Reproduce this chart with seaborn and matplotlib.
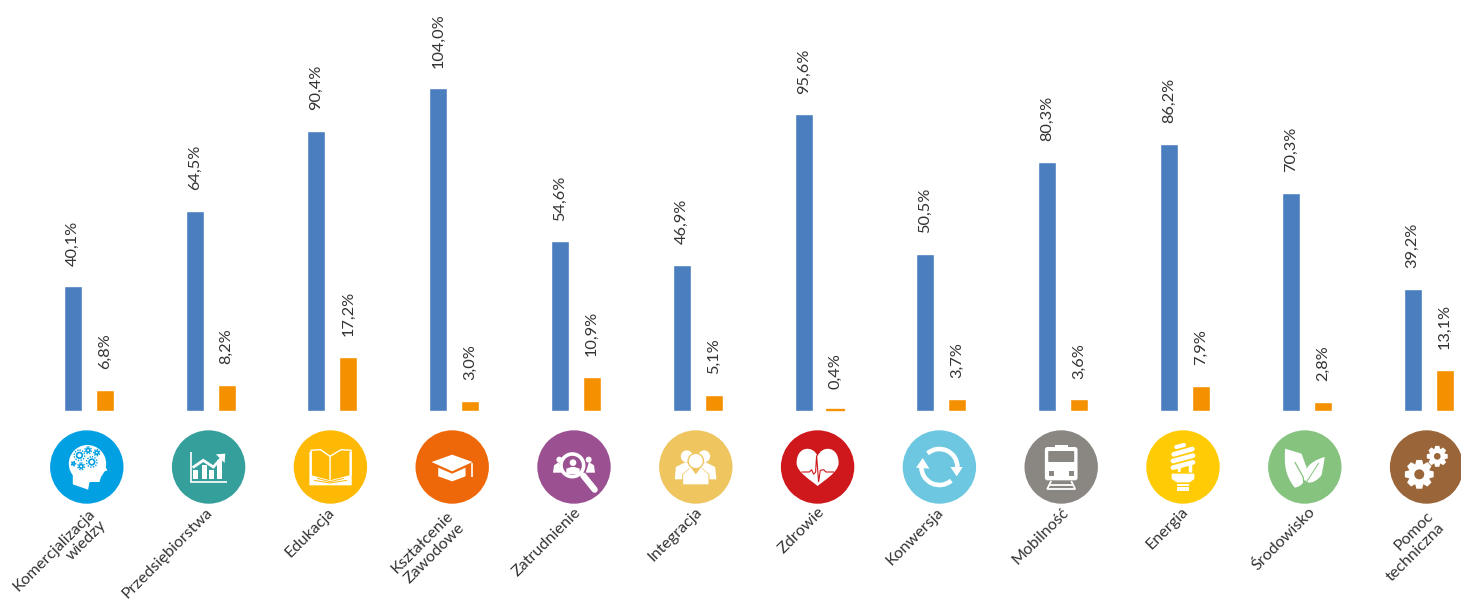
import numpy as np
import pandas as pd
import matplotlib
matplotlib.use("Agg")
import matplotlib.pyplot as plt
import seaborn as sns
from matplotlib.patches import Circle, Polygon, Rectangle, Arc, PathPatch, FancyBboxPatch
from matplotlib.path import Path
from matplotlib.transforms import Affine2D

categories = ["Komercjalizacja\nwiedzy", "Przedsiębiorstwa", "Edukacja", "Kształcenie\nZawodowe",
              "Zatrudnienie", "Integracja", "Zdrowie", "Konwersja",
              "Mobilność", "Energia", "Środowisko", "Pomoc\ntechniczna"]
blue_values = [40.1, 64.5, 90.4, 104.0, 54.6, 46.9, 95.6, 50.5, 80.3, 86.2, 70.3, 39.2]
orange_values = [6.8, 8.2, 17.2, 3.0, 10.9, 5.1, 0.4, 3.7, 3.6, 7.9, 2.8, 13.1]
icon_colors = ["#00A0E3", "#359F9C", "#FDB903", "#EE6708", "#9B5191", "#EEC55F",
               "#CE181B", "#6DC7E1", "#8A8682", "#FFCB05", "#85C37F", "#9A6639"]

W, H = 1461, 602
STEP = 121.8       # px between groups
X0 = 88.8          # px centre of first group
BASE = 410.6       # px of the bars baseline
PX_PER_UNIT = 3.098
ICON_X0 = 86.8
ICON_Y = 467.0
ICON_R = 36.7
LINE_GAP = 11.3    # px shift in x and y of a second label line
# small per label nudges in px, the original labels were placed by hand
LABEL_DX = [4, 0, 0, -3.5, 3, 2, 3, 0, 3, 1, 6, 3]
LABEL_DY = [2, 0, 0, 4, 0, 0, 0, 0, 0, 0, 0, 4]

sns.set_theme(style="white")
plt.rcParams["font.family"] = ["Lato", "DejaVu Sans"]

df = pd.DataFrame({
    "kategoria": categories * 2,
    "seria": ["a"] * 12 + ["b"] * 12,
    "wartosc": blue_values + orange_values,
})

fig = plt.figure(figsize=(W / 100, H / 100), dpi=100)
ax = fig.add_axes([0, 0, 1, 1])
sns.barplot(data=df, x="kategoria", y="wartosc", hue="seria", palette=["#4A7EBF", "#F59100"],
            width=0.525, gap=0.44, saturation=1, legend=False, ax=ax)
ax.set_xlim(-X0 / STEP, (W - X0) / STEP)
ax.set_ylim(-(H - BASE) / PX_PER_UNIT, BASE / PX_PER_UNIT)
ax.axis("off")

all_values = [blue_values, orange_values]
for cont, vals in zip(ax.containers, all_values):
    labels = [f"{v:.1f}".replace(".", ",") + "%" for v in vals]
    ax.bar_label(cont, labels=labels, rotation=90, padding=15, fontsize=11.8, color="#333333")
    for bar, v in zip(cont, vals):
        if v < 1:
            # else the tiny bar rounds away
            bar.set_snap(False)
            bar.set_edgecolor(bar.get_facecolor())
            bar.set_linewidth(0.8)

# icon layer, in image pixels
ov = fig.add_axes([0, 0, 1, 1])
ov.set_xlim(0, W)
ov.set_ylim(H, 0)
ov.axis("off")
ov.patch.set_alpha(0)


def poly(t, pts, color="white", **kw):
    ov.add_patch(Polygon(pts, closed=True, fc=color, ec="none", transform=t, **kw))


def line(t, pts, lw=1.5, color="white", cap="butt"):
    xs, ys = zip(*pts)
    ov.plot(xs, ys, color=color, lw=lw, transform=t, solid_capstyle=cap, solid_joinstyle="miter")


def disc(t, x, y, r, color="white", **kw):
    ov.add_patch(Circle((x, y), r, fc=color, ec="none", transform=t, **kw))


def ring(t, x, y, r, lw, color="white", ls="-"):
    ov.add_patch(Circle((x, y), r, fc="none", ec=color, lw=lw, ls=ls, transform=t))


def gear(t, x, y, r_out, r_in, r_hole, bg, teeth=8):
    pts = []
    for k in range(teeth):
        a = 2 * np.pi * k / teeth
        w = np.pi / teeth
        for da, r in [(-w, r_in), (-w * 0.5, r_out), (w * 0.5, r_out), (w, r_in)]:
            pts.append((x + r * np.cos(a + da), y + r * np.sin(a + da)))
    poly(t, pts)
    disc(t, x, y, r_hole, color=bg)


def icon_head(t, bg):
    disc(t, 2, -10, 56)
    poly(t, [(-42, 20), (-42, 52), (4, 68), (8, 45), (38, 45), (44, 25), (48, 15), (62, 10),
             (50, -10), (45, -30), (0, -30)])
    for x, y, r in [(-22, -35, 17), (4, -50, 11), (30, -43, 10), (15, -15, 17), (-17, -2, 11), (-40, -10, 7)]:
        ring(t, x, y, r * 0.92, 1.0, bg, ls=(0, (1, 1)))
        ring(t, x, y, r * 0.5, 1.2, bg)


def icon_chart(t, bg):
    line(t, [(-54, -45), (-54, 46), (54, 46)], lw=1.2)
    for x, top in [(-46, 8), (-21, -5), (2, 10), (24, -20)]:
        ov.add_patch(Rectangle((x, top), 15, 37 - top, fc="white", ec="none", transform=t))
    line(t, [(-48, 2), (-16, -20), (14, 0), (40, -28)], lw=2)
    poly(t, [(22, -38), (50, -40), (48, -12)])


def icon_book(t, bg):
    poly(t, [(-63, -45), (-56, -45), (-56, 25), (-1, 40), (57, 25), (57, -45), (64, -45), (64, 55), (-63, 55)])
    line(t, [(-58, 25), (-58, -50), (-30, -52), (-1, -32), (-1, 38)], lw=1)
    line(t, [(62, 25), (62, -50), (32, -52), (-1, -32)], lw=1)
    line(t, [(-50, 40), (-1, 48), (50, 40)], lw=0.7, color=bg)
    line(t, [(-40, 34), (-1, 44), (40, 34)], lw=0.7, color=bg)


def icon_cap(t, bg):
    poly(t, [(-62, -15), (0, -37), (61, -15), (0, 13)])
    poly(t, [(-42, 2), (0, 20), (40, 2), (40, 28), (0, 43), (-42, 28)])
    line(t, [(58, -12), (58, 30)], lw=1.2)


def icon_search(t, bg):
    for sx in (-1, 1):
        disc(t, sx * 44, -22, 9)
        poly(t, [(sx * 63, 17), (sx * 60, -5), (sx * 45, -15), (sx * 35, 17)])
    disc(t, -5, -5, 38, color=bg)
    ring(t, -5, -5, 34, 2.6)
    disc(t, -3, -13, 10)
    poly(t, [(-23, 22), (-23, 5), (-8, 0), (2, 0), (17, 5), (17, 22)])
    line(t, [(28, 26), (62, 68)], lw=4.5, cap="round")


def icon_people(t, bg):
    disc(t, -27, -32, 18)
    disc(t, 25, -32, 18)
    poly(t, [(-63, 37), (-60, 0), (-30, -15), (-5, 0), (-10, 37)])
    poly(t, [(62, 37), (58, 0), (28, -15), (5, 0), (10, 37)])
    disc(t, 0, -18, 25, color=bg)
    disc(t, 0, -18, 21)
    poly(t, [(-41, 58), (-41, 22), (-20, 4), (20, 4), (41, 22), (41, 58)], color=bg)
    poly(t, [(-38, 52), (-38, 22), (-15, 2), (0, 22), (15, 2), (38, 22), (38, 52)])


def icon_heart(t, bg):
    verts = [(0, 57), (-20, 40), (-63, 15), (-63, -12), (-63, -64), (-12, -66), (0, -32),
             (12, -66), (63, -64), (63, -12), (63, 15), (20, 40), (0, 57)]
    codes = [Path.MOVETO] + [Path.CURVE4] * 12
    ov.add_patch(PathPatch(Path(verts, codes), fc="white", ec="none", transform=t))
    line(t, [(-48, 15), (-25, 15), (-18, 8), (-12, 22), (-6, 15), (-3, -35), (3, 45), (8, 10),
              (18, 8), (25, 15), (50, 15)], lw=0.8, color=bg)


def icon_cycle(t, bg):
    ov.add_patch(Arc((0, 0), 108, 108, theta1=229, theta2=360, transform=t, ec="white", lw=3.3))
    ov.add_patch(Arc((0, 0), 108, 108, theta1=49, theta2=180, transform=t, ec="white", lw=3.3))
    poly(t, [(-70, 2), (-50, -27), (-30, 5)])
    poly(t, [(33, 0), (70, 0), (52, 28)])


def icon_train(t, bg):
    ov.add_patch(FancyBboxPatch((-49, -60), 98, 100, boxstyle="round,pad=0,rounding_size=8",
                                fc="white", ec="none", transform=t))
    ov.add_patch(FancyBboxPatch((-39, -48), 78, 33, boxstyle="round,pad=0,rounding_size=3",
                                fc=bg, ec="none", transform=t))
    ov.add_patch(Rectangle((-38, 13), 15, 15, fc=bg, ec="none", transform=t))
    ov.add_patch(Rectangle((22, 13), 15, 15, fc=bg, ec="none", transform=t))
    ov.add_patch(Rectangle((-20, -67), 40, 6, fc="white", ec="none", transform=t))
    line(t, [(-30, 42), (-42, 66), (42, 66), (30, 42)], lw=1.3)
    line(t, [(-35, 55), (35, 55)], lw=1.3)


def icon_bulb(t, bg):
    line(t, [(-20, -60), (3, -66)], lw=3, cap="round")
    line(t, [(-28, -38), (28, -54)], lw=3.4, cap="round")
    line(t, [(-30, -18), (30, -34)], lw=3.4, cap="round")
    line(t, [(-30, 2), (30, -14)], lw=3.4, cap="round")
    line(t, [(-12, 15), (-10, 0)], lw=2)
    line(t, [(20, 15), (20, -8)], lw=2.5)
    poly(t, [(-34, 20), (34, 20), (34, 36), (20, 46), (-18, 46), (-34, 36)])
    for y in (53, 62, 70):
        line(t, [(-19, y), (18, y)], lw=1.4)


def icon_leaves(t, bg):
    left = [(-59, -55), (-62, -10), (-60, 25), (-30, 62), (-8, 58), (8, 40), (5, 0), (-10, -40), (-59, -55)]
    right = [(60, -30), (30, -22), (2, -5), (-2, 25), (-2, 58), (30, 50), (50, 25), (55, 0), (60, -30)]
    codes = [Path.MOVETO] + [Path.CURVE4] * 3 + [Path.CURVE4] * 3 + [Path.LINETO] * 2
    ov.add_patch(PathPatch(Path(left, codes), fc="white", ec="none", transform=t))
    ov.add_patch(PathPatch(Path(right, codes), fc="white", ec="none", transform=t))
    line(t, [(-30, -15), (-5, 30), (-2, 58)], lw=0.9, color=bg)
    line(t, [(42, -12), (5, 45)], lw=0.7, color=bg)


def icon_gears(t, bg):
    gear(t, -22, 22, 44, 32, 15, bg)
    gear(t, 32, -32, 32, 23, 10, bg)


icon_funcs = [icon_head, icon_chart, icon_book, icon_cap, icon_search, icon_people,
              icon_heart, icon_cycle, icon_train, icon_bulb, icon_leaves, icon_gears]

for i, (name, col, func) in enumerate(zip(categories, icon_colors, icon_funcs)):
    cx = ICON_X0 + i * STEP
    ov.add_patch(Circle((cx, ICON_Y), ICON_R, fc=col, ec="none"))
    # icons are sketched at 3x scale around the circle centre
    t = Affine2D().scale(1 / 3).translate(cx, ICON_Y) + ov.transData
    func(t, col)
    # lines are right aligned along the slant, so each one is its own text
    for j, part in enumerate(name.split("\n")):
        ov.text(cx - 3 + LABEL_DX[i] + j * LINE_GAP, 505 + LABEL_DY[i] + j * LINE_GAP, part,
                rotation=45, rotation_mode="anchor", ha="right", va="top",
                fontsize=11.6, color="#333333")

fig.savefig("out.png", dpi=100)
